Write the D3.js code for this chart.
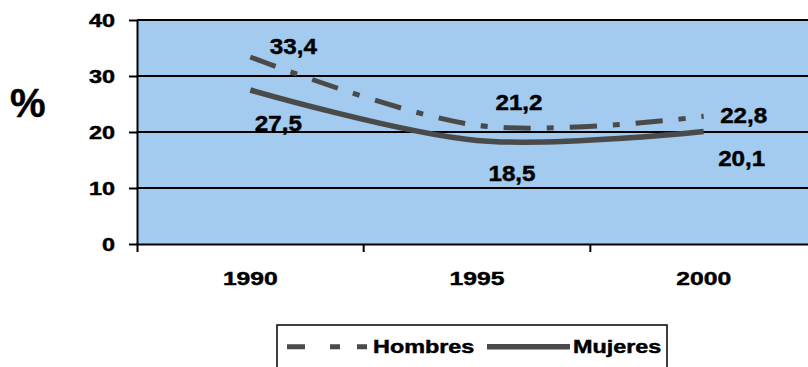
<!DOCTYPE html>
<html>
<head>
<meta charset="utf-8">
<script src="https://cdn.jsdelivr.net/npm/d3@7"></script>
<style>
  html, body { margin: 0; padding: 0; background: #fff; }
  svg { display: block; font-family: "Liberation Sans", Arial, sans-serif; font-weight: bold; }
  svg text { stroke: #000; stroke-width: 0.45px; fill: #000; }
</style>
</head>
<body>
<svg id="chart" width="808" height="367"></svg>
<script>
// Years on the horizontal axis
const categories = ["1990", "1995", "2000"];
// Percentages per sex
const hombres = [33.4, 21.2, 22.8];
const mujeres = [27.5, 18.5, 20.1];
const seriesNames = ["Hombres", "Mujeres"];
// Vertical axis ticks
const yTicks = [0, 10, 20, 30, 40];
// Value labels printed next to each point
const hombresLabels = ["33,4", "21,2", "22,8"];
const mujeresLabels = ["27,5", "18,5", "20,1"];

// Label placement relative to each point (layout only)
const hombresLabelOffsets = [[43, -11], [42, -23], [40, -1]];
const mujeresLabelOffsets = [[28, 33], [35, 33], [38, 27]];

const plot = { left: 137, right: 817, top: 20, bottom: 244 };
const lineColor = "#4a4a4a";
const fillBlue = "#a2cbef";

const svg = d3.select("#chart");

const x = d3.scaleBand().domain(categories).range([plot.left, plot.right]);
const y = d3.scaleLinear().domain([0, 40]).range([plot.bottom, plot.top]);
const cx = c => x(c) + x.bandwidth() / 2;

// plot background
svg.append("rect")
  .attr("x", plot.left).attr("y", plot.top)
  .attr("width", plot.right - plot.left).attr("height", plot.bottom - plot.top)
  .attr("fill", fillBlue);

// horizontal gridlines
svg.append("g").selectAll("line")
  .data(yTicks.filter(t => t > 0))
  .join("line")
  .attr("x1", plot.left).attr("x2", plot.right)
  .attr("y1", d => y(d)).attr("y2", d => y(d))
  .attr("stroke", "#000").attr("stroke-width", 2);

// y axis
const yAxis = svg.append("g")
  .attr("transform", `translate(${plot.left},0)`)
  .call(d3.axisLeft(y).tickValues(yTicks).tickSize(8).tickSizeOuter(0));
yAxis.select(".domain").attr("stroke", "#000").attr("stroke-width", 2);
yAxis.selectAll(".tick line").attr("stroke", "#000").attr("stroke-width", 2);
yAxis.selectAll(".tick text")
  .attr("x", -22 / 1.3)
  .attr("dy", "0.36em")
  .attr("transform", "scale(1.3,1)")
  .attr("font-size", 18)
  .attr("font-family", null);

// x axis: labels centred in each band, ticks on band boundaries
const xAxis = svg.append("g")
  .attr("transform", `translate(0,${plot.bottom})`)
  .call(d3.axisBottom(x).tickSizeInner(0).tickSizeOuter(8).tickPadding(28));
xAxis.select(".domain").attr("stroke", "#000").attr("stroke-width", 2);
xAxis.selectAll(".tick line").remove();
xAxis.selectAll(".tick text")
  .attr("transform", "scale(1.3,1)")
  .attr("font-size", 19)
  .attr("font-family", null);
xAxis.selectAll("line.boundary")
  .data(categories.slice(1))
  .join("line")
  .attr("class", "boundary")
  .attr("x1", d => x(d)).attr("x2", d => x(d))
  .attr("y1", 0).attr("y2", 8)
  .attr("stroke", "#000").attr("stroke-width", 2);

// "%" axis title
svg.append("text")
  .attr("x", 10).attr("y", 117)
  .attr("font-size", 40)
  .text("%");

// series lines
const line = d3.line()
  .x((d, i) => cx(categories[i]))
  .y(d => y(d))
  .curve(d3.curveCardinal.tension(0));

svg.append("path")
  .datum(mujeres)
  .attr("d", line)
  .attr("fill", "none")
  .attr("stroke", lineColor)
  .attr("stroke-width", 5.5);

svg.append("path")
  .datum(hombres)
  .attr("d", line)
  .attr("fill", "none")
  .attr("stroke", lineColor)
  .attr("stroke-width", 5)
  .attr("stroke-dasharray", "27,16,7,16");

// value labels
function drawLabels(values, labels, offsets) {
  svg.append("g").selectAll("text")
    .data(values)
    .join("text")
    .attr("transform", (d, i) =>
      `translate(${cx(categories[i]) + offsets[i][0]},${y(d) + offsets[i][1]}) scale(1.1,1)`)
    .attr("text-anchor", "middle")
    .attr("dy", "0.36em")
    .attr("font-size", 22)
    .text((d, i) => labels[i]);
}
drawLabels(hombres, hombresLabels, hombresLabelOffsets);
drawLabels(mujeres, mujeresLabels, mujeresLabelOffsets);

// legend
const legend = svg.append("g");
legend.append("rect")
  .attr("x", 277).attr("y", 325)
  .attr("width", 390).attr("height", 60)
  .attr("fill", "#fff")
  .attr("stroke", "#000").attr("stroke-width", 1.5);
const legY = 346.7;
legend.append("line")
  .attr("x1", 287).attr("x2", 367)
  .attr("y1", legY).attr("y2", legY)
  .attr("stroke", lineColor).attr("stroke-width", 5)
  .attr("stroke-dasharray", "18,25,10,17,10,100");
legend.append("text")
  .attr("transform", `translate(373,${legY}) scale(1.3,1)`)
  .attr("dy", "0.36em")
  .attr("font-size", 18)
  .text(seriesNames[0]);
legend.append("line")
  .attr("x1", 487).attr("x2", 570)
  .attr("y1", legY).attr("y2", legY)
  .attr("stroke", lineColor).attr("stroke-width", 5.5);
legend.append("text")
  .attr("transform", `translate(573,${legY}) scale(1.3,1)`)
  .attr("dy", "0.36em")
  .attr("font-size", 18)
  .text(seriesNames[1]);
</script>
</body>
</html>
